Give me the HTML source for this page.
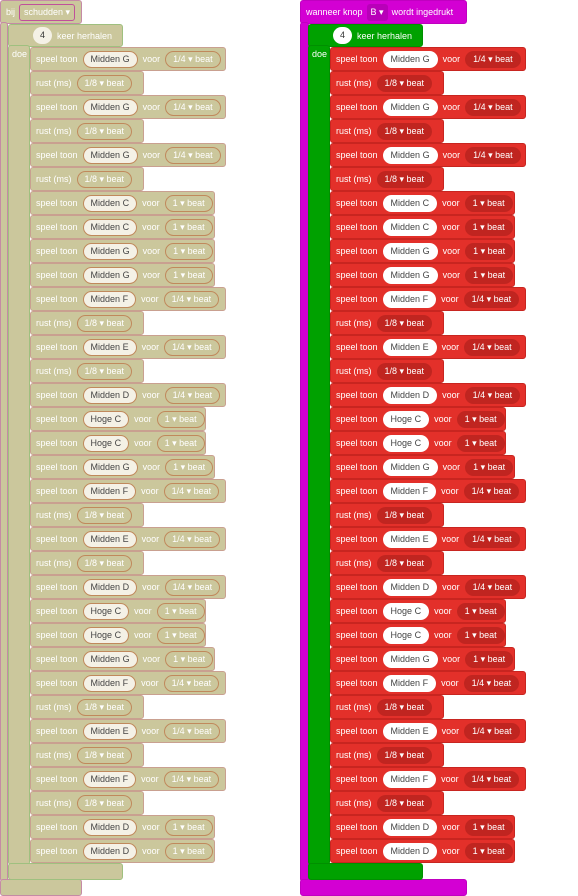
<!DOCTYPE html>
<html><head><meta charset="utf-8"><style>
body{margin:0;width:578px;height:896px;background:#fff;position:relative;overflow:hidden;font-family:"Liberation Sans",sans-serif;font-size:9px}
.a{position:absolute;box-sizing:border-box}
.row{display:flex;align-items:center;padding-left:5px;gap:5px;white-space:nowrap}
.pill{border-radius:9px;height:17px;line-height:15px;padding:0 7px;box-sizing:border-box}
</style></head><body>
<script>
const rows=[["G","1/4"],null,["G","1/4"],null,["G","1/4"],null,["C","1"],["C","1"],["G","1"],["G","1"],["F","1/4"],null,["E","1/4"],null,["D","1/4"],["HC","1"],["HC","1"],["G","1"],["F","1/4"],null,["E","1/4"],null,["D","1/4"],["HC","1"],["HC","1"],["G","1"],["F","1/4"],null,["E","1/4"],null,["F","1/4"],null,["D","1"],["D","1"]];
function box(x,y,w,h,bg,bd,name){const d=document.createElement('div');d.className='a';d.style.cssText=`left:${x}px;top:${y}px;width:${w}px;height:${h}px;background:${bg};border:1px solid ${bd};border-radius:3px`;


document.body.appendChild(d);return d;}
function prog(ox,dis){
 const hat=dis?'#cbc79c':'#d300d3', hatBd=dis?'#c58aa5':'#c000c0';
 const rep=dis?'#cbc79c':'#00a100', repBd=dis?'#9fc07f':'#008f00';
 const st=dis?'#cbc79c':'#e3302a', stBd=dis?'#c9a090':'#c82520';
 const pillDark=dis?'transparent':'#c02520', pillDarkBd=dis?'#c0895c':'#c02520';
 box(ox,0,dis?82:167,24,hat,hatBd,'event-hat-block');
 box(ox,22,dis?8:9,860,hat,hatBd,'event-block-side');
 box(ox,879,dis?82:167,17,hat,hatBd,'event-block-bottom');
 const ht=document.createElement('div');ht.className='a row';ht.style.cssText=`left:${ox+1}px;top:0;height:24px;color:#fff;gap:4px`;
 ht.innerHTML=dis?'bij <span class="pill" style="border:1px solid #c0509a;border-radius:3px;padding:0 4px;color:#fff">schudden ▾</span>':'wanneer knop <span class="pill" style="border-radius:3px;background:#b800b8;padding:0 4px;line-height:17px">B ▾</span> wordt ingedrukt';
 
 
 document.body.appendChild(ht);
 box(ox+8,24,115,23,rep,repBd,'repeat-block-header');
 box(ox+8,45,22,820,rep,repBd,'repeat-block-side');
 box(ox+8,863,115,17,rep,repBd,'repeat-block-bottom');
 const rt=document.createElement('div');rt.className='a row';rt.style.cssText=`left:${ox+28}px;top:24px;height:23px;color:#fff`;
 rt.innerHTML=`<span class="pill" style="background:${dis?'#f4f1e6':'#fff'};color:#333;padding:0 7px;line-height:17px">4</span>keer herhalen`;
 
 
 document.body.appendChild(rt);
 const doe=document.createElement('div');doe.className='a';doe.style.cssText=`left:${ox+12}px;top:49px;color:#fff`;doe.textContent='doe';
 
 
 document.body.appendChild(doe);
 rows.forEach((r,i)=>{
  const y=47+i*24;
  let w=r?(r[1]==='1/4'?196:(r[0]==='HC'?176:185)):114;
  const b=box(ox+30,y,w,24,st,stBd,r?'play-tone-block':'rest-block');
  b.className='a row';b.style.color='#fff';
  const dp=`<span class="pill" style="background:${pillDark};border:1px solid ${pillDarkBd};color:#fff">`;
  if(r){const n=r[0]==='HC'?'Hoge C':'Midden '+r[0];
   b.innerHTML=`speel toon <span class="pill" style="background:${dis?'#f4f1e6':'#fff'};color:#444;border:1px solid ${dis?'#c0895c':'#fff'}">${n}</span> voor ${dp}${r[1]} ▾ beat</span>`;}
  else b.innerHTML=`rust (ms) ${dp}1/8 ▾ beat</span>`;
 });
}
prog(0,true);prog(300,false);
</script>
</body></html>
